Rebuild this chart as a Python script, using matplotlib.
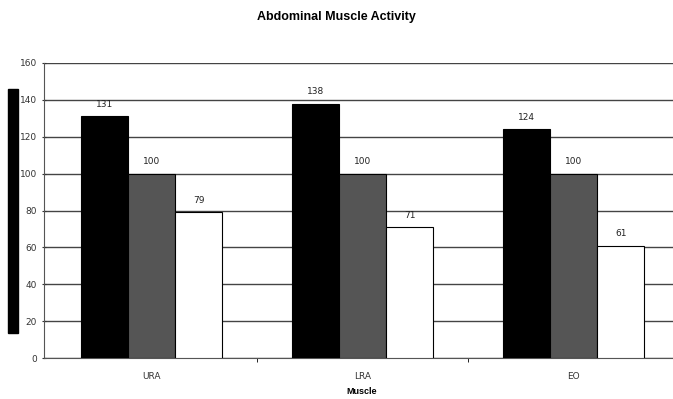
import matplotlib.pyplot as plt
import numpy as np
from matplotlib.patches import Rectangle

muscles = ["URA", "LRA", "EO"]
series_a = [131, 138, 124]
series_b = [100, 100, 100]
series_c = [79, 71, 61]

W, H = 673, 399
fig = plt.figure(figsize=(W / 100, H / 100), dpi=100)
ax = fig.add_axes([44 / W, 1 - 358 / H, (W - 44) / W, (358 - 63) / H])

x = np.arange(len(muscles))
bw = 0.224
colors = ["#000000", "#555555", "#ffffff"]
for i, (vals, c) in enumerate(zip([series_a, series_b, series_c], colors)):
    bars = ax.bar(x + (i - 1) * bw, vals, bw, color=c, edgecolor="black", linewidth=0.8, zorder=3)
    for b, v in zip(bars, vals):
        ax.text(b.get_x() + b.get_width() / 2, v + 4, str(v), ha="center", va="bottom",
                fontsize=6.5, color="#222222")

ax.set_ylim(0, 160)
ax.set_yticks(range(0, 161, 20))
left = -0.5 - 2 / 211
ax.set_xlim(left, left + (W - 44) / 211)
ax.set_xticks(x)
ax.set_xticklabels(muscles)
ax.set_xticks([0.5, 1.5], minor=True)
ax.tick_params(axis="x", which="major", length=0, labelsize=6.5, pad=10, colors="#333333")
ax.tick_params(axis="x", which="minor", length=3, direction="out")
ax.tick_params(axis="y", labelsize=6.5, length=3, direction="inout", colors="#333333")
ax.yaxis.grid(True, color="#444444", linewidth=1)
ax.set_axisbelow(True)
for s in ["top", "right"]:
    ax.spines[s].set_visible(False)
ax.spines["left"].set_color("#555555")
ax.spines["bottom"].set_color("#555555")

fig.text(0.5, 1 - 17 / H, "Abdominal Muscle Activity", ha="center", va="center",
         fontsize=9, fontweight="bold", family="Liberation Sans")
fig.text(362 / W, 1 - 391 / H, "Muscle", ha="center", va="center",
         fontsize=6.5, fontweight="bold", family="Liberation Sans")

# the dark block on the left of the original
fig.patches.append(Rectangle((8 / W, 1 - 333 / H), 10 / W, 244 / H,
                             transform=fig.transFigure, color="black", figure=fig))

fig.savefig("out.png", dpi=100)
